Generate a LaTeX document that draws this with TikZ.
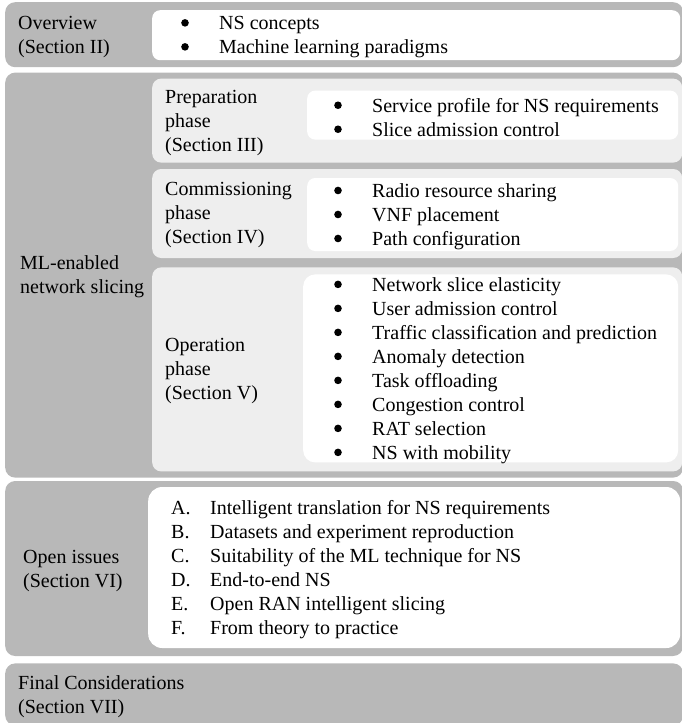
\documentclass[tikz,border=0pt]{standalone}
\usepackage{fontspec}
\setmainfont{Liberation Serif}
\usepackage{tikz}
\usetikzlibrary{positioning}
\definecolor{sectiongray}{RGB}{184,184,184}
\definecolor{phasegray}{RGB}{238,238,238}
\tikzstyle{section}=[rectangle, fill=sectiongray, rounded corners=10pt, minimum width=678pt, inner sep=0pt]
\tikzstyle{phase}=[rectangle, fill=phasegray, rounded corners=9pt, minimum width=530pt, inner sep=0pt]
\tikzstyle{topics}=[rectangle, fill=white, rounded corners=8pt, inner sep=0pt]
\tikzstyle{caption}=[align=left, inner sep=0pt, yshift=-2pt, font=\fontsize{20}{24}\selectfont]
\newcommand{\dotitem}{\makebox[38pt][l]{\raisebox{3pt}{\tikz\fill (0,0) circle (3.8pt);}}}
\newcommand{\letitem}[1]{\makebox[39pt][l]{#1}}

\begin{document}
\begin{tikzpicture}[x=1pt, y=-1pt]
    \useasboundingbox (0,0) rectangle (681,723);
    \node (ov) [section, minimum height=65pt, anchor=north west] at (5,2) {};
    \node (ml) [section, minimum height=405pt, below=5pt of ov] {};
    \node (oi) [section, minimum height=175pt, below=3pt of ml] {};
    \node (fc) [section, minimum height=62pt, below=7pt of oi] {};

    \node (ovlist) [topics, minimum width=528pt, minimum height=50pt, below left=8pt and 3pt of ov.north east] {};
    \node (prep) [phase, minimum height=84pt, below right=6pt and 147pt of ml.north west] {};
    \node (comm) [phase, minimum height=89pt, below=6pt of prep] {};
    \node (oper) [phase, minimum height=204pt, below=9pt of comm] {};
    \node (preplist) [topics, minimum width=371pt, minimum height=49pt, below left=12pt and 4pt of prep.north east] {};
    \node (commlist) [topics, minimum width=371pt, minimum height=73pt, below left=9pt and 4pt of comm.north east] {};
    \node (operlist) [topics, rounded corners=12pt, minimum width=375pt, minimum height=188pt, below left=7pt and 4pt of oper.north east] {};
    \node (oilist) [topics, rounded corners=14pt, minimum width=532pt, minimum height=161pt, below left=6pt and 3pt of oi.north east] {};

    \node (ovtext) [caption, right=13pt of ov.west] {Overview\\(Section II)};
    \node (mltext) [caption, right=15pt of ml.west] {ML-enabled\\network slicing};
    \node (preptext) [caption, right=13pt of prep.west] {Preparation\\phase\\(Section III)};
    \node (commtext) [caption, right=13pt of comm.west] {Commissioning\\phase\\(Section IV)};
    \node (opertext) [caption, right=13pt of oper.west] {Operation\\phase\\(Section V)};
    \node (oitext) [caption, right=18pt of oi.west] {Open issues\\(Section VI)};
    \node (fctext) [caption, right=13pt of fc.west] {Final Considerations\\(Section VII)};

    \node (ovitems) [caption, right=29pt of ovlist.west]
        {
            \dotitem NS concepts\\
            \dotitem Machine learning paradigms
        };
    \node (prepitems) [caption, right=27pt of preplist.west]
        {
            \dotitem Service profile for NS requirements\\
            \dotitem Slice admission control
        };
    \node (commitems) [caption, right=27pt of commlist.west]
        {
            \dotitem Radio resource sharing\\
            \dotitem VNF placement\\
            \dotitem Path configuration
        };
    \node (operitems) [caption, right=31pt of operlist.west]
        {
            \dotitem Network slice elasticity\\
            \dotitem User admission control\\
            \dotitem Traffic classification and prediction\\
            \dotitem Anomaly detection\\
            \dotitem Task offloading\\
            \dotitem Congestion control\\
            \dotitem RAT selection\\
            \dotitem NS with mobility
        };
    \node (oiitems) [caption, right=23pt of oilist.west]
        {
            \letitem{A.}Intelligent translation for NS requirements\\
            \letitem{B.}Datasets and experiment reproduction\\
            \letitem{C.}Suitability of the ML technique for NS\\
            \letitem{D.}End-to-end NS\\
            \letitem{E.}Open RAN intelligent slicing\\
            \letitem{F.}From theory to practice
        };
\end{tikzpicture}
\end{document}
